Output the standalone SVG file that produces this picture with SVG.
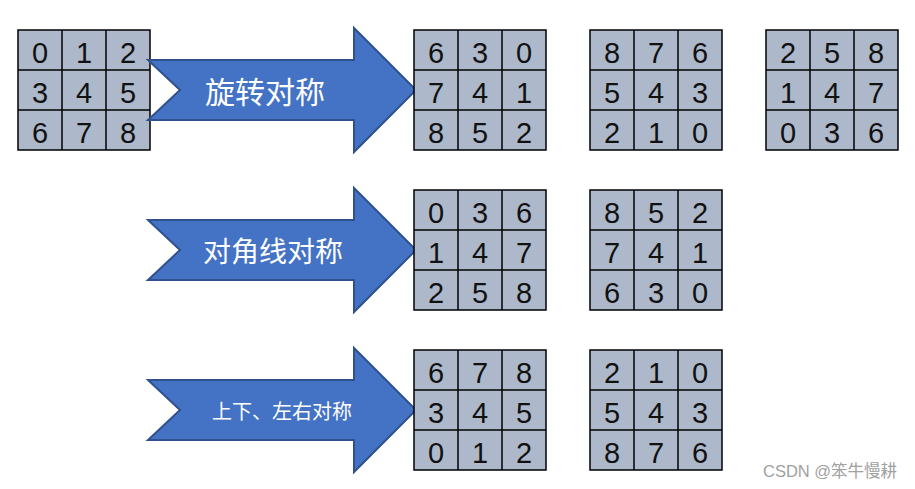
<svg xmlns="http://www.w3.org/2000/svg" width="915" height="489" viewBox="0 0 915 489">
<style>
.bg{fill:#adb9ca;stroke:#000;stroke-width:1.5}
.ln{stroke:#000;stroke-width:1.5;fill:none}
.d{font-family:"Liberation Sans",Arial,sans-serif;font-size:29px;fill:#111;text-anchor:middle}
.arr{fill:#4472c4;stroke:#2f528f;stroke-width:2;stroke-linejoin:miter}
.lbl{font-family:"Noto Sans CJK SC","Noto Sans",sans-serif;fill:#fff;text-anchor:middle;dominant-baseline:central}
.wm{font-family:"Liberation Sans","Noto Sans CJK SC",sans-serif;font-size:16.5px;fill:#a0a0a0}
</style>
<defs>
<g id="grid">
<rect class="bg" x="0" y="0" width="132" height="120"/>
<path class="ln" d="M44,0V120M88,0V120M0,40H132M0,80H132"/>
</g>
<path id="arrowShape" class="arr" d="M0,32 L206,32 L206,0 L268,62 L206,124 L206,92 L0,92 L32,62 Z"/>
</defs>
<g id="grid-original" transform="translate(18,30)">
<use href="#grid"/>
<text class="d" x="22" y="33">0</text><text class="d" x="66" y="33">1</text><text class="d" x="110" y="33">2</text>
<text class="d" x="22" y="73">3</text><text class="d" x="66" y="73">4</text><text class="d" x="110" y="73">5</text>
<text class="d" x="22" y="113">6</text><text class="d" x="66" y="113">7</text><text class="d" x="110" y="113">8</text>
</g>
<g id="connectors">
<g id="arrow-rotate" transform="translate(148,28)">
<use href="#arrowShape"/>
<text class="lbl" x="117" y="62" font-size="30">旋转对称</text>
</g>
<g id="arrow-diagonal" transform="translate(148,188)">
<use href="#arrowShape"/>
<text class="lbl" x="125" y="62" font-size="28">对角线对称</text>
</g>
<g id="arrow-flip" transform="translate(148,348)">
<use href="#arrowShape"/>
<text class="lbl" x="134" y="62" font-size="20">上下、左右对称</text>
</g>
</g>
<g id="grid-rot90" transform="translate(414,30)">
<use href="#grid"/>
<text class="d" x="22" y="33">6</text><text class="d" x="66" y="33">3</text><text class="d" x="110" y="33">0</text>
<text class="d" x="22" y="73">7</text><text class="d" x="66" y="73">4</text><text class="d" x="110" y="73">1</text>
<text class="d" x="22" y="113">8</text><text class="d" x="66" y="113">5</text><text class="d" x="110" y="113">2</text>
</g>
<g id="grid-rot180" transform="translate(590,30)">
<use href="#grid"/>
<text class="d" x="22" y="33">8</text><text class="d" x="66" y="33">7</text><text class="d" x="110" y="33">6</text>
<text class="d" x="22" y="73">5</text><text class="d" x="66" y="73">4</text><text class="d" x="110" y="73">3</text>
<text class="d" x="22" y="113">2</text><text class="d" x="66" y="113">1</text><text class="d" x="110" y="113">0</text>
</g>
<g id="grid-rot270" transform="translate(766,30)">
<use href="#grid"/>
<text class="d" x="22" y="33">2</text><text class="d" x="66" y="33">5</text><text class="d" x="110" y="33">8</text>
<text class="d" x="22" y="73">1</text><text class="d" x="66" y="73">4</text><text class="d" x="110" y="73">7</text>
<text class="d" x="22" y="113">0</text><text class="d" x="66" y="113">3</text><text class="d" x="110" y="113">6</text>
</g>
<g id="grid-diag1" transform="translate(414,190)">
<use href="#grid"/>
<text class="d" x="22" y="33">0</text><text class="d" x="66" y="33">3</text><text class="d" x="110" y="33">6</text>
<text class="d" x="22" y="73">1</text><text class="d" x="66" y="73">4</text><text class="d" x="110" y="73">7</text>
<text class="d" x="22" y="113">2</text><text class="d" x="66" y="113">5</text><text class="d" x="110" y="113">8</text>
</g>
<g id="grid-diag2" transform="translate(590,190)">
<use href="#grid"/>
<text class="d" x="22" y="33">8</text><text class="d" x="66" y="33">5</text><text class="d" x="110" y="33">2</text>
<text class="d" x="22" y="73">7</text><text class="d" x="66" y="73">4</text><text class="d" x="110" y="73">1</text>
<text class="d" x="22" y="113">6</text><text class="d" x="66" y="113">3</text><text class="d" x="110" y="113">0</text>
</g>
<g id="grid-flipv" transform="translate(414,350)">
<use href="#grid"/>
<text class="d" x="22" y="33">6</text><text class="d" x="66" y="33">7</text><text class="d" x="110" y="33">8</text>
<text class="d" x="22" y="73">3</text><text class="d" x="66" y="73">4</text><text class="d" x="110" y="73">5</text>
<text class="d" x="22" y="113">0</text><text class="d" x="66" y="113">1</text><text class="d" x="110" y="113">2</text>
</g>
<g id="grid-fliph" transform="translate(590,350)">
<use href="#grid"/>
<text class="d" x="22" y="33">2</text><text class="d" x="66" y="33">1</text><text class="d" x="110" y="33">0</text>
<text class="d" x="22" y="73">5</text><text class="d" x="66" y="73">4</text><text class="d" x="110" y="73">3</text>
<text class="d" x="22" y="113">8</text><text class="d" x="66" y="113">7</text><text class="d" x="110" y="113">6</text>
</g>
<text id="watermark" class="wm" x="763" y="477">CSDN @笨牛慢耕</text>
</svg>
